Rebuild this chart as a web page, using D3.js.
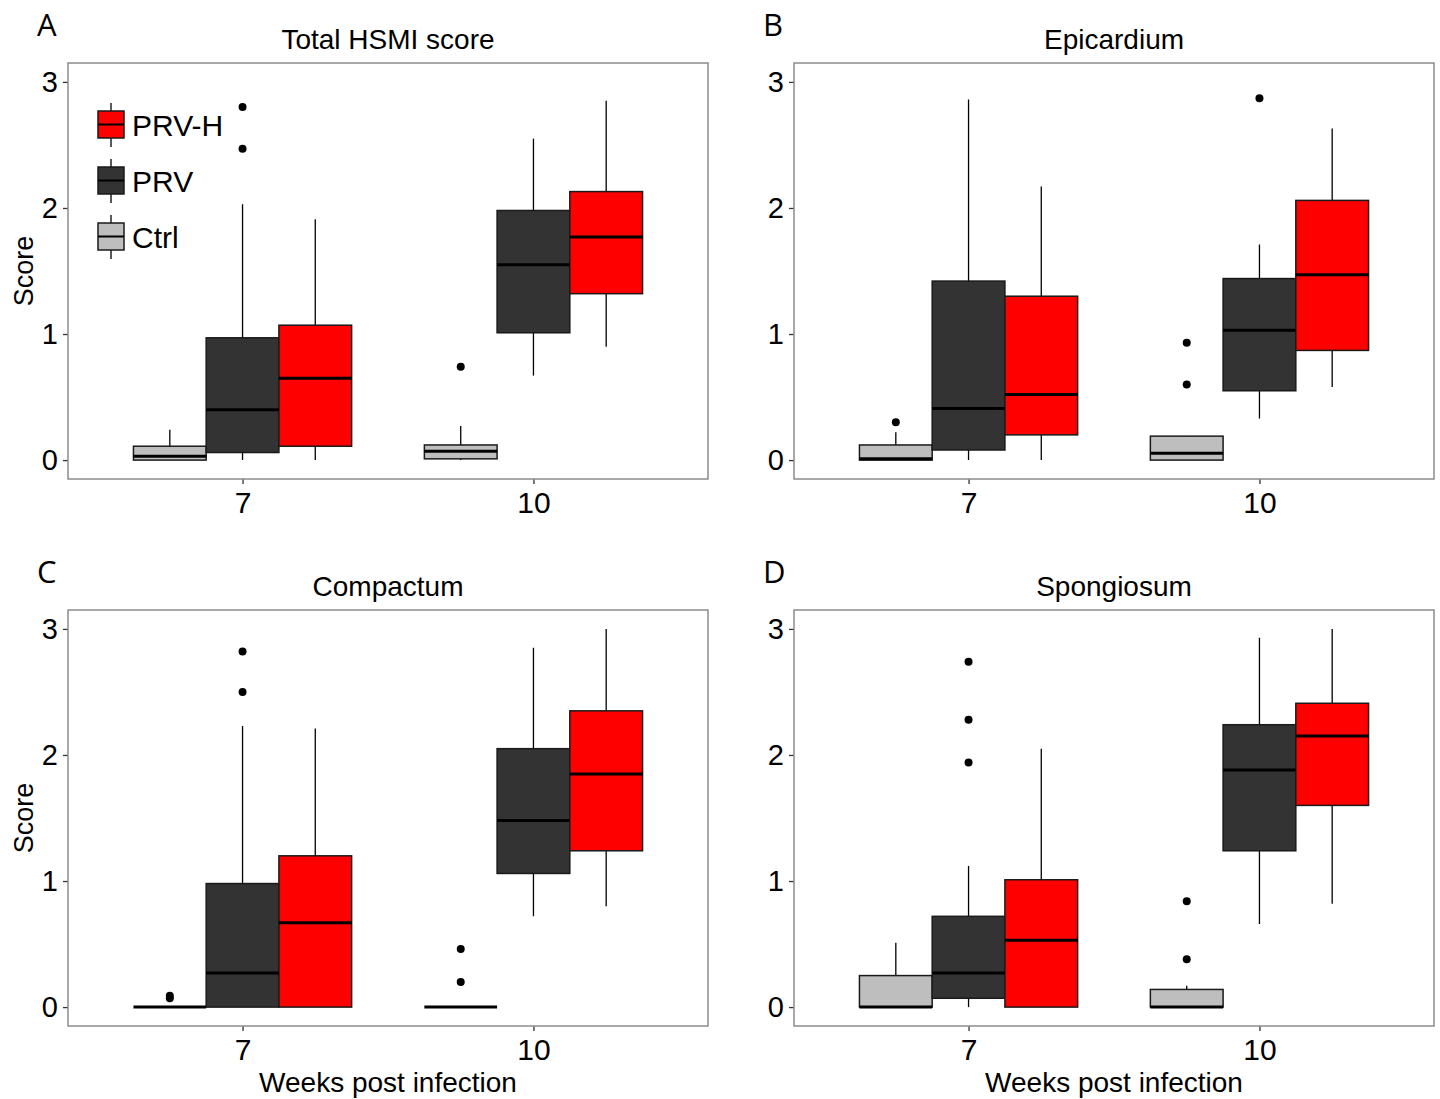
<!DOCTYPE html>
<html>
<head>
<meta charset="utf-8">
<script src="https://cdn.jsdelivr.net/npm/d3@7"></script>
<style>
  body { margin: 0; background: #fff; }
  text { font-family: "Liberation Sans", Arial, sans-serif; fill: #000; }
  .letter { font-family: "Open Sans", "Noto Sans", sans-serif; }
</style>
</head>
<body>
<div id="chart"></div>
<script>
// groups and x categories
var groups = ["Ctrl", "PRV", "PRV-H"];
var weeks = ["7", "10"];
var yTicks = [0, 1, 2, 3];
var fillColors = ["#bebebe", "#333333", "#ff0000"];

// rows: week, group, lower whisker, q1, median, q3, upper whisker, outliers
var totalScore = [
  ["7", "Ctrl", 0, 0, 0.03, 0.11, 0.24, []],
  ["7", "PRV", 0, 0.06, 0.40, 0.97, 2.03, [2.47, 2.80]],
  ["7", "PRV-H", 0, 0.11, 0.65, 1.07, 1.91, []],
  ["10", "Ctrl", 0, 0.01, 0.07, 0.12, 0.27, [0.74]],
  ["10", "PRV", 0.67, 1.01, 1.55, 1.98, 2.55, []],
  ["10", "PRV-H", 0.90, 1.32, 1.77, 2.13, 2.85, []]
];
var epicardium = [
  ["7", "Ctrl", 0, 0, 0.01, 0.12, 0.22, [0.30]],
  ["7", "PRV", 0, 0.08, 0.41, 1.42, 2.86, []],
  ["7", "PRV-H", 0, 0.20, 0.52, 1.30, 2.17, []],
  ["10", "Ctrl", 0, 0, 0.055, 0.19, 0.19, [0.60, 0.93]],
  ["10", "PRV", 0.33, 0.55, 1.03, 1.44, 1.71, [2.87]],
  ["10", "PRV-H", 0.58, 0.87, 1.47, 2.06, 2.63, []]
];
var compactum = [
  ["7", "Ctrl", 0, 0, 0, 0, 0, [0.07, 0.09]],
  ["7", "PRV", 0, 0, 0.27, 0.98, 2.23, [2.50, 2.82]],
  ["7", "PRV-H", 0, 0, 0.67, 1.20, 2.21, []],
  ["10", "Ctrl", 0, 0, 0, 0, 0, [0.20, 0.46]],
  ["10", "PRV", 0.72, 1.06, 1.48, 2.05, 2.85, []],
  ["10", "PRV-H", 0.80, 1.24, 1.85, 2.35, 3.0, []]
];
var spongiosum = [
  ["7", "Ctrl", 0, 0, 0, 0.25, 0.51, []],
  ["7", "PRV", 0, 0.07, 0.27, 0.72, 1.12, [1.94, 2.28, 2.74]],
  ["7", "PRV-H", 0, 0, 0.53, 1.01, 2.05, []],
  ["10", "Ctrl", 0, 0, 0, 0.14, 0.17, [0.38, 0.84]],
  ["10", "PRV", 0.66, 1.24, 1.88, 2.24, 2.93, []],
  ["10", "PRV-H", 0.82, 1.60, 2.15, 2.41, 3.0, []]
];

var panels = [
  {letter: "A", title: "Total HSMI score", data: totalScore, left: 68, top: 63, yLabel: true, xLabel: false, legend: true},
  {letter: "B", title: "Epicardium", data: epicardium, left: 794, top: 63, yLabel: false, xLabel: false, legend: false},
  {letter: "C", title: "Compactum", data: compactum, left: 68, top: 610, yLabel: true, xLabel: true, legend: false},
  {letter: "D", title: "Spongiosum", data: spongiosum, left: 794, top: 610, yLabel: false, xLabel: true, legend: false}
];

var svgWidth = 1440;
var svgHeight = 1099;
var width = 640;
var height = 416;

var svg = d3.select("#chart")
  .append("svg")
  .attr("width", svgWidth)
  .attr("height", svgHeight);

// x: discrete weeks at 1 and 2 with ggplot-like expansion, groups dodged within 0.75
var xScale = d3.scaleLinear().domain([0.4, 2.6]).range([0, width]);
var yScale = d3.scaleLinear().domain([-0.15, 3.15]).range([height, 0]);
var dodge = d3.scaleBand().domain(groups).range([-0.375, 0.375]);
var color = d3.scaleOrdinal().domain(groups).range(fillColors);

function boxLeft(d) { return xScale(weeks.indexOf(d[0]) + 1 + dodge(d[1])); }
function boxMid(d) { return xScale(weeks.indexOf(d[0]) + 1 + dodge(d[1]) + dodge.bandwidth() / 2); }
var boxW = xScale(dodge.bandwidth()) - xScale(0);

panels.forEach(function(p) {
  var g = svg.append("g").attr("transform", `translate(${p.left}, ${p.top})`);

  // panel letter and title
  svg.append("text").attr("class", "letter")
    .attr("x", p.left - 31).attr("y", p.top - 27)
    .style("font-size", "31px")
    .text(p.letter);
  g.append("text")
    .attr("x", width / 2).attr("y", -14)
    .attr("text-anchor", "middle")
    .style("font-size", "28px")
    .text(p.title);

  // axes
  var leftAxis = d3.axisLeft(yScale).tickValues(yTicks).tickSize(5).tickPadding(5).tickFormat(d3.format("d"));
  var bottomAxis = d3.axisBottom(xScale).tickValues([1, 2]).tickSize(5).tickPadding(8).tickFormat((d, i) => weeks[i]);
  var yAxis = g.append("g").call(leftAxis);
  var xAxis = g.append("g").attr("transform", `translate(0, ${height})`).call(bottomAxis);
  [yAxis, xAxis].forEach(function(a) {
    a.select(".domain").remove();
    a.selectAll("line").attr("stroke", "#333").attr("stroke-width", 1.3);
    a.selectAll("text").style("font-size", "29px").attr("fill", "#000");
  });
  xAxis.selectAll("text").style("font-size", "30px");

  // whiskers
  g.selectAll(".whisker")
    .data(p.data)
    .enter()
    .append("line")
    .attr("x1", boxMid).attr("x2", boxMid)
    .attr("y1", d => yScale(d[2]))
    .attr("y2", d => yScale(d[6]))
    .attr("stroke", "#000")
    .attr("stroke-width", 1.3);

  // boxes
  g.selectAll(".box")
    .data(p.data)
    .enter()
    .append("rect")
    .attr("x", boxLeft)
    .attr("width", boxW)
    .attr("y", d => yScale(d[5]))
    .attr("height", d => yScale(d[3]) - yScale(d[5]))
    .attr("fill", d => color(d[1]))
    .attr("stroke", "#1a1a1a")
    .attr("stroke-width", 1.5);

  // medians
  g.selectAll(".median")
    .data(p.data)
    .enter()
    .append("line")
    .attr("x1", boxLeft)
    .attr("x2", d => boxLeft(d) + boxW)
    .attr("y1", d => yScale(d[4]))
    .attr("y2", d => yScale(d[4]))
    .attr("stroke", "#000")
    .attr("stroke-width", 3);

  // outliers
  var pts = [];
  p.data.forEach(function(d) { d[7].forEach(function(v) { pts.push([d, v]); }); });
  g.selectAll(".outlier")
    .data(pts)
    .enter()
    .append("circle")
    .attr("cx", d => boxMid(d[0]))
    .attr("cy", d => yScale(d[1]))
    .attr("r", 4)
    .attr("fill", "#000");

  // panel frame
  g.append("rect")
    .attr("width", width).attr("height", height)
    .attr("fill", "none")
    .attr("stroke", "#8c8c8c")
    .attr("stroke-width", 1.5);

  if (p.yLabel) {
    g.append("text")
      .attr("transform", "rotate(-90)")
      .attr("x", -height / 2).attr("y", -35)
      .attr("text-anchor", "middle")
      .style("font-size", "27px")
      .text("Score");
  }
  if (p.xLabel) {
    g.append("text")
      .attr("x", width / 2).attr("y", height + 66)
      .attr("text-anchor", "middle")
      .style("font-size", "28px")
      .text("Weeks post infection");
  }

  if (p.legend) {
    var legendOrder = groups.slice().reverse();
    var lg = g.append("g").attr("transform", "translate(30, 40)");
    legendOrder.forEach(function(name, i) {
      var k = lg.append("g").attr("transform", `translate(0, ${i * 56})`);
      k.append("line").attr("x1", 13).attr("x2", 13).attr("y1", 0).attr("y2", 44)
        .attr("stroke", "#000").attr("stroke-width", 1.3);
      k.append("rect").attr("x", 0).attr("y", 8).attr("width", 26).attr("height", 27)
        .attr("fill", color(name)).attr("stroke", "#1a1a1a").attr("stroke-width", 1.5);
      k.append("line").attr("x1", 0).attr("x2", 26).attr("y1", 21.5).attr("y2", 21.5)
        .attr("stroke", "#000").attr("stroke-width", 2);
      k.append("text").attr("x", 34).attr("y", 33)
        .style("font-size", "30px")
        .text(name);
    });
  }
});
</script>
</body>
</html>
